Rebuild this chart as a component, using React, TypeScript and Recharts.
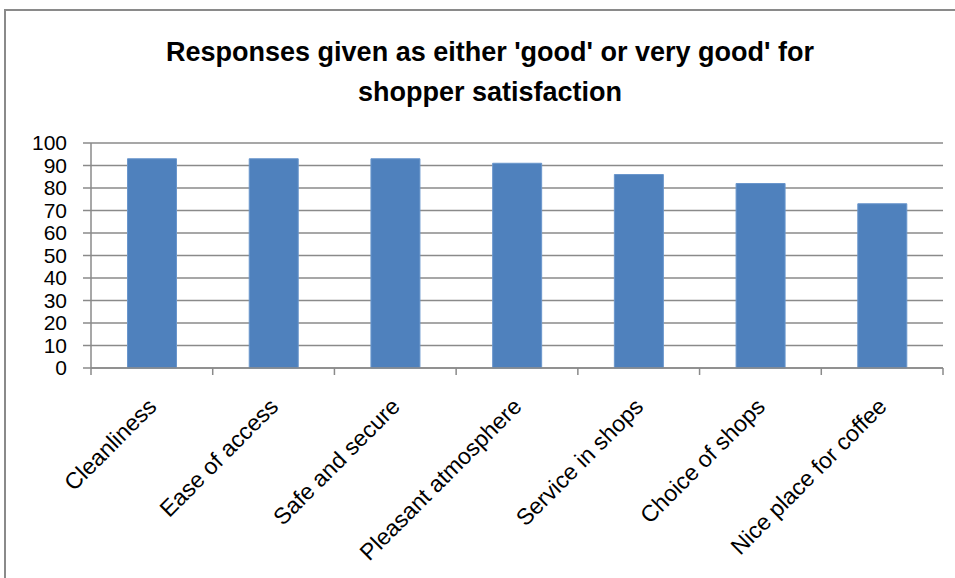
import React from 'react';
import { BarChart, Bar, XAxis, YAxis, CartesianGrid } from 'recharts';

const categories = [
  'Cleanliness',
  'Ease of access',
  'Safe and secure',
  'Pleasant atmosphere',
  'Service in shops',
  'Choice of shops',
  'Nice place for coffee',
];
const responses = [93, 93, 93, 91, 86, 82, 73];
const yTicks = [0, 10, 20, 30, 40, 50, 60, 70, 80, 90, 100];

const data = categories.map((name, i) => ({ name, value: responses[i] }));

const GREY = '#8a8a8a';
const FONT = '"Liberation Sans", Arial, sans-serif';

// x tick: marks sit between categories (Excel style), label rotated -45deg
const CategoryTick = (props: any) => {
  const { x, y, payload, index } = props;
  const half = payload && payload.offset ? payload.offset : 60.9;
  const last = index === categories.length - 1;
  return (
    <g>
      <line x1={x - half} y1={y} x2={x - half} y2={y + 7} stroke={GREY} strokeWidth={1.5} />
      {last && <line x1={x + half} y1={y} x2={x + half} y2={y + 7} stroke={GREY} strokeWidth={1.5} />}
      <text
        x={x + 6}
        y={y + 40}
        transform={`rotate(-45, ${x + 6}, ${y + 40})`}
        textAnchor="end"
        fontSize={23}
        fontFamily={FONT}
        fill="#000"
      >
        {payload.value}
      </text>
    </g>
  );
};

export default function App() {
  return (
    <div
      style={{
        position: 'absolute',
        left: 0,
        top: 0,
        width: 955,
        height: 578,
        overflow: 'hidden',
        background: '#fff',
      }}
    >
      {/* chart frame */}
      <div
        style={{
          position: 'absolute',
          left: 4,
          top: 9,
          width: 980,
          height: 600,
          border: `2px solid ${GREY}`,
        }}
      />
      <div
        style={{
          position: 'absolute',
          left: 0,
          top: 32,
          width: 980,
          textAlign: 'center',
          fontFamily: FONT,
          fontWeight: 'bold',
          fontSize: 27,
          lineHeight: '40px',
          color: '#000',
        }}
      >
        Responses given as either 'good' or very good' for
        <br />
        shopper satisfaction
      </div>
      <div style={{ position: 'absolute', left: 0, top: 0 }}>
        <BarChart
          width={955}
          height={578}
          data={data}
          margin={{ top: 143, right: 12, bottom: 0, left: 0 }}
          barCategoryGap="30%"
        >
          <CartesianGrid vertical={false} stroke={GREY} strokeWidth={1.5} />
          <XAxis
            dataKey="name"
            interval={0}
            height={210}
            tickSize={0}
            tickMargin={0}
            tickLine={false}
            axisLine={{ stroke: GREY, strokeWidth: 1.5 }}
            tick={<CategoryTick />}
          />
          <YAxis
            width={91}
            domain={[0, 100]}
            ticks={yTicks}
            interval={0}
            tickSize={8}
            tickMargin={16}
            tickLine={{ stroke: GREY, strokeWidth: 1.5 }}
            axisLine={{ stroke: GREY, strokeWidth: 1.5 }}
            tick={{ fill: '#000', fontSize: 21, fontFamily: FONT }}
          />
          <Bar dataKey="value" fill="#4F81BD" stroke="#6a96cc" strokeWidth={1} isAnimationActive={false} />
        </BarChart>
      </div>
    </div>
  );
}
